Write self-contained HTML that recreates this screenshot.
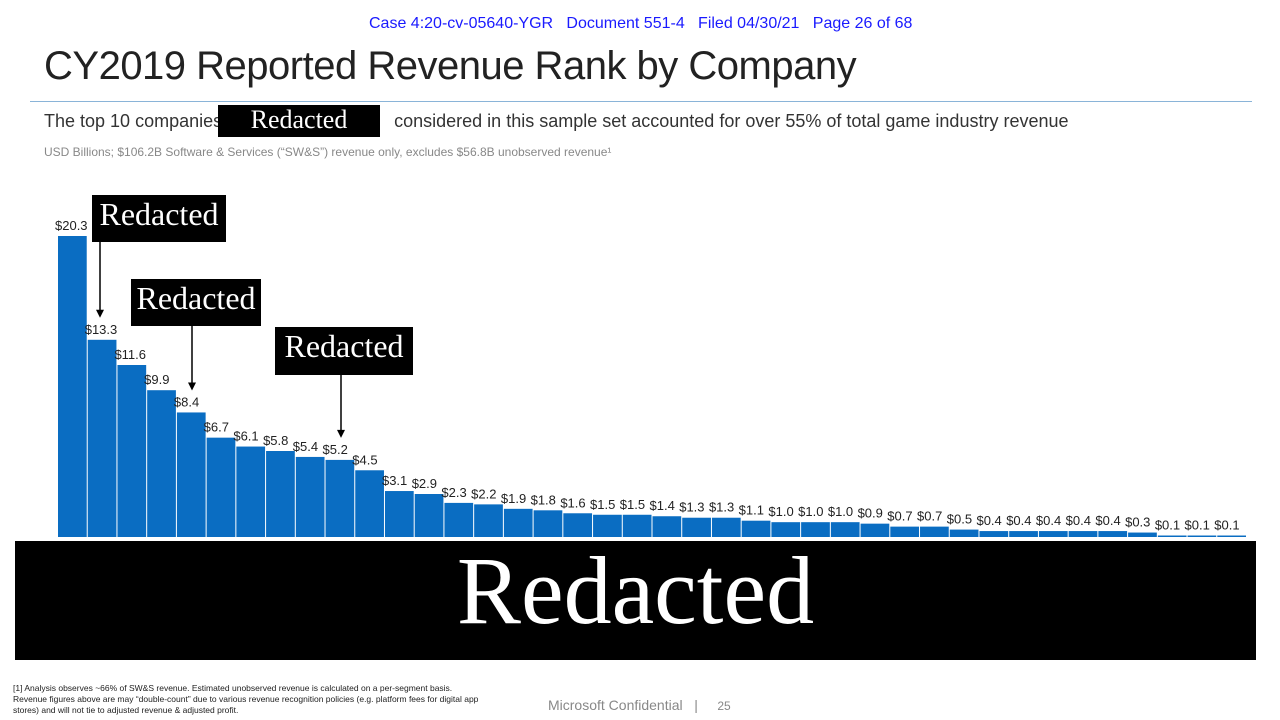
<!DOCTYPE html>
<html><head><meta charset="utf-8"><style>
body{margin:0;width:1280px;height:720px;background:#fff;position:relative;overflow:hidden;font-family:"Liberation Sans",sans-serif}
.a{position:absolute;white-space:nowrap}
.red{position:absolute;background:#000;color:#fff;font-family:"Liberation Serif",serif;text-align:center}
</style></head><body>
<div class="a" style="left:369px;top:15px;font-size:16px;color:#1a1aff">Case 4:20-cv-05640-YGR&nbsp;&nbsp; Document 551-4&nbsp;&nbsp; Filed 04/30/21&nbsp;&nbsp; Page 26 of 68</div>
<div class="a" style="left:44px;top:44px;font-size:40px;color:#222;letter-spacing:-0.5px">CY2019 Reported Revenue Rank by Company</div>
<div class="a" style="left:30px;top:101px;width:1222px;height:1px;background:#8ab4d8"></div>
<div class="a" style="left:44px;top:111px;font-size:18px;color:#333">The top 10 companies <span style="display:inline-block;width:162px"></span> considered in this sample set accounted for over 55% of total game industry revenue</div>
<div class="red" style="left:218px;top:105px;width:162px;height:32px;font-size:26px;line-height:30px">Redacted</div>
<div class="a" style="left:44px;top:145px;font-size:12px;color:#888">USD Billions; $106.2B Software &amp; Services (“SW&amp;S”) revenue only, excludes $56.8B unobserved revenue¹</div>
<svg id="chart" style="position:absolute;left:0;top:0" width="1280" height="720"></svg>
<div class="red" style="left:92px;top:195px;width:134px;height:47px;font-size:32px;line-height:38px">Redacted</div>
<div class="red" style="left:131px;top:279px;width:130px;height:47px;font-size:32px;line-height:38px">Redacted</div>
<div class="red" style="left:275px;top:327px;width:138px;height:48px;font-size:32px;line-height:38px">Redacted</div>
<div class="red" style="left:15px;top:541px;width:1241px;height:119px;font-size:96px;line-height:100px">Redacted</div>
<div class="a" style="left:13px;top:683px;font-size:8.5px;color:#222;line-height:11px;white-space:normal;width:470px">[1] Analysis observes ~66% of SW&amp;S revenue. Estimated unobserved revenue is calculated on a per-segment basis. Revenue figures above are may “double-count” due to various revenue recognition policies (e.g. platform fees for digital app stores) and will not tie to adjusted revenue &amp; adjusted profit.</div>
<div class="a" style="left:548px;top:697px;font-size:14px;color:#888">Microsoft Confidential&nbsp;&nbsp; |&nbsp;&nbsp;&nbsp;&nbsp; <span style="font-size:12px">25</span></div>
<script>
const values=[20.3,13.3,11.6,9.9,8.4,6.7,6.1,5.8,5.4,5.2,4.5,3.1,2.9,2.3,2.2,1.9,1.8,1.6,1.5,1.5,1.4,1.3,1.3,1.1,1.0,1.0,1.0,0.9,0.7,0.7,0.5,0.4,0.4,0.4,0.4,0.4,0.3,0.1,0.1,0.1];
const arrowTargets=[1,4,9];
const svg=document.getElementById('chart');
const NS='http://www.w3.org/2000/svg';
const x0=58,x1=1247,base=537,scale=301/20.3;
const step=(x1-x0)/values.length;
const xs=i=>x0+i*step, ys=v=>base-v*scale;
values.forEach((v,i)=>{
  const r=document.createElementNS(NS,'rect');
  
  
  r.setAttribute('x',xs(i));r.setAttribute('y',ys(v));
  r.setAttribute('width',step-1);r.setAttribute('height',v*scale);
  r.setAttribute('fill','#0a6dc2');svg.appendChild(r);
  const t=document.createElementNS(NS,'text');
  
  
  t.setAttribute('x',xs(i)-3);t.setAttribute('y',ys(v)-6);
  t.setAttribute('font-size','13');t.setAttribute('fill','#222');
  t.setAttribute('font-family','Liberation Sans, sans-serif');
  t.textContent='$'+v.toFixed(1);svg.appendChild(t);
});
const arrowTops=[242,326,375];
arrowTargets.forEach((bi,k)=>{
  const ax=[100,192,341][k];
  const yEnd=ys(values[bi])-22;
  const l=document.createElementNS(NS,'line');
  
  
  l.setAttribute('x1',ax);l.setAttribute('x2',ax);
  l.setAttribute('y1',arrowTops[k]);l.setAttribute('y2',yEnd-6);
  l.setAttribute('stroke','#000');l.setAttribute('stroke-width','1.5');svg.appendChild(l);
  const p=document.createElementNS(NS,'path');
  
  
  p.setAttribute('d',`M${ax-4},${yEnd-8}L${ax+4},${yEnd-8}L${ax},${yEnd}Z`);
  svg.appendChild(p);
});
</script>
</body></html>
